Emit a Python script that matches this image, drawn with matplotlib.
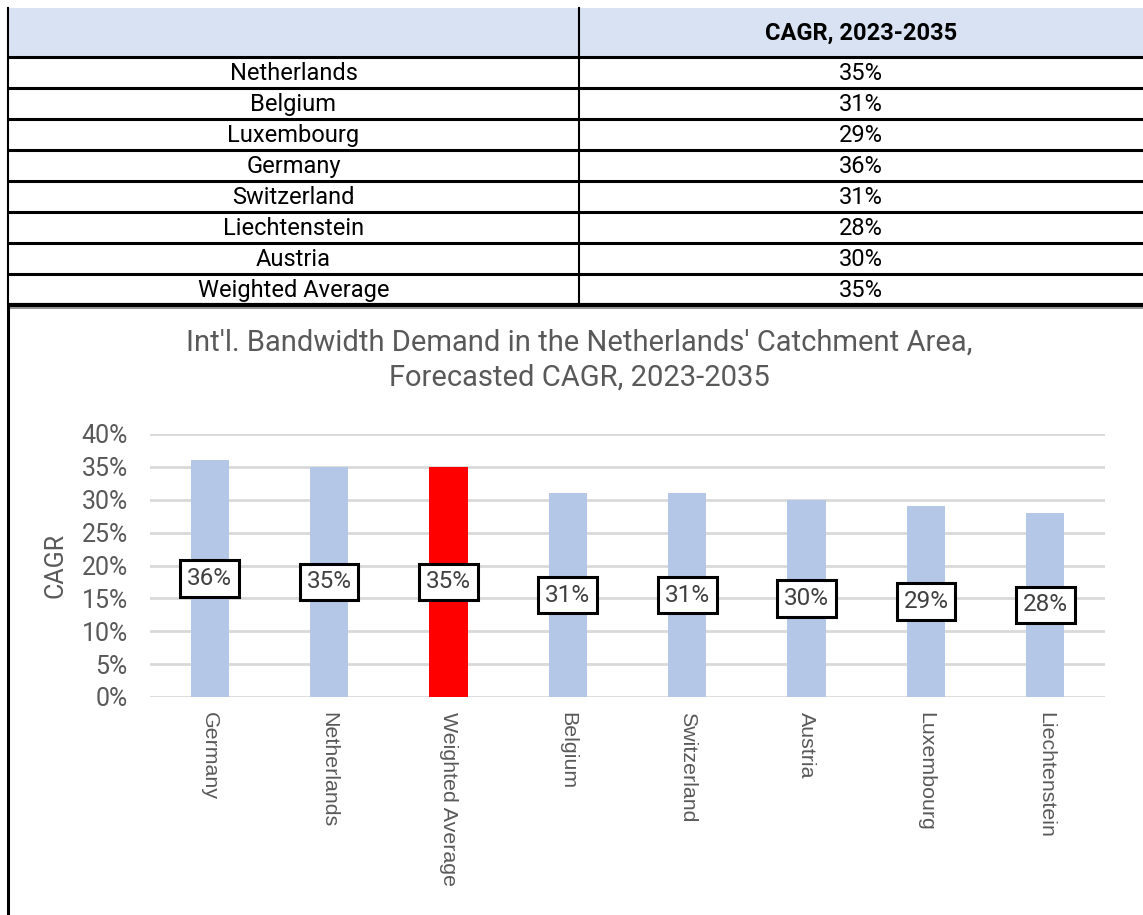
import matplotlib.pyplot as plt
from matplotlib.ticker import PercentFormatter

# table data (order as in the table)
countries = ["Netherlands", "Belgium", "Luxembourg", "Germany", "Switzerland",
             "Liechtenstein", "Austria", "Weighted Average"]
cagr = [0.35, 0.31, 0.29, 0.36, 0.31, 0.28, 0.30, 0.35]
header = "CAGR, 2023-2035"
highlight = "Weighted Average"

# chart is sorted high to low (stable, so ties keep table order)
order = sorted(range(len(cagr)), key=lambda i: -cagr[i])
chart_names = [countries[i] for i in order]
chart_vals = [cagr[i] for i in order]

W, H = 1143, 915
fig = plt.figure(figsize=(W / 100, H / 100), dpi=100)

# overlay in pixel units for the table and chart frame
lay = fig.add_axes([0, 0, 1, 1])
lay.set_xlim(0, W)
lay.set_ylim(H, 0)
lay.axis("off")

x0, xmid, x1 = 8, 579, W
top, head_h, row_h = 8, 49, 31
lay.add_patch(plt.Rectangle((x0, top), x1 - x0, head_h, fc="#D9E2F3", ec="none"))
lay.text((xmid + x1) / 2, top + head_h / 2 + 1, header, ha="center", va="center",
         fontsize=17, fontweight="bold", family="Roboto", color="black")
for i, (name, v) in enumerate(zip(countries, cagr)):
    y = top + head_h + i * row_h
    lay.plot([x0, x1], [y, y], color="black", lw=2.2, solid_capstyle="butt")
    lay.text((x0 + xmid) / 2, y + row_h / 2 + 1, name, ha="center", va="center",
             fontsize=17, family="Roboto", color="black")
    lay.text((xmid + x1) / 2, y + row_h / 2 + 1, f"{v:.0%}", ha="center", va="center",
             fontsize=17, family="Roboto", color="black")
tab_bottom = top + head_h + len(countries) * row_h
lay.plot([x0, x1], [tab_bottom, tab_bottom], color="black", lw=3, solid_capstyle="butt")
lay.plot([x0, x0], [top, tab_bottom], color="black", lw=1.5)
lay.plot([xmid, xmid], [top, tab_bottom], color="black", lw=1.5)

# chart frame
lay.plot([x0, x1], [tab_bottom + 2.5, tab_bottom + 2.5], color="#808080", lw=1.2)
lay.plot([x0, x0], [tab_bottom + 2, H], color="black", lw=2.2)

lay.text(579, 343, "Int'l. Bandwidth Demand in the Netherlands' Catchment Area,",
         ha="center", va="center", fontsize=21, family="Roboto", color="#595959")
lay.text(579, 378, "Forecasted CAGR, 2023-2035",
         ha="center", va="center", fontsize=21, family="Roboto", color="#595959")

# bar chart
ax = fig.add_axes([150 / W, 1 - 697 / H, 955 / W, 263 / H])
colors = ["#FF0000" if n == highlight else "#B4C7E7" for n in chart_names]
xs = range(len(chart_names))
ax.bar(xs, chart_vals, width=0.32, color=colors, zorder=2)
ax.set_xlim(-0.5, len(chart_names) - 0.5)
ax.set_ylim(0, 0.40)
ax.set_yticks([i * 0.05 for i in range(9)])
ax.yaxis.set_major_formatter(PercentFormatter(1.0, decimals=0))
ax.grid(axis="y", color="#D9D9D9", lw=2, zorder=0)
ax.set_axisbelow(True)
for s in ax.spines.values():
    s.set_visible(False)
ax.tick_params(length=0)
ax.tick_params(axis="y", labelsize=18, labelcolor="#595959", pad=16)
for lab in ax.get_yticklabels():
    lab.set_family("Roboto")
ax.set_xticks(list(xs))
ax.set_xticklabels(chart_names, rotation=270, fontsize=15.4, family="Liberation Sans",
                   color="#595959", va="top", ha="center")
ax.tick_params(axis="x", pad=11)
ax.set_ylabel("CAGR", fontsize=18, family="Roboto", color="#595959", labelpad=10)

for x, v in zip(xs, chart_vals):
    ax.text(x, v / 2, f"{v:.0%}", ha="center", va="center", fontsize=17.5,
            family="Roboto", color="#404040", zorder=3,
            bbox=dict(boxstyle="square,pad=0.28", fc="white", ec="black", lw=2.2))

fig.savefig("out.png", dpi=100)
